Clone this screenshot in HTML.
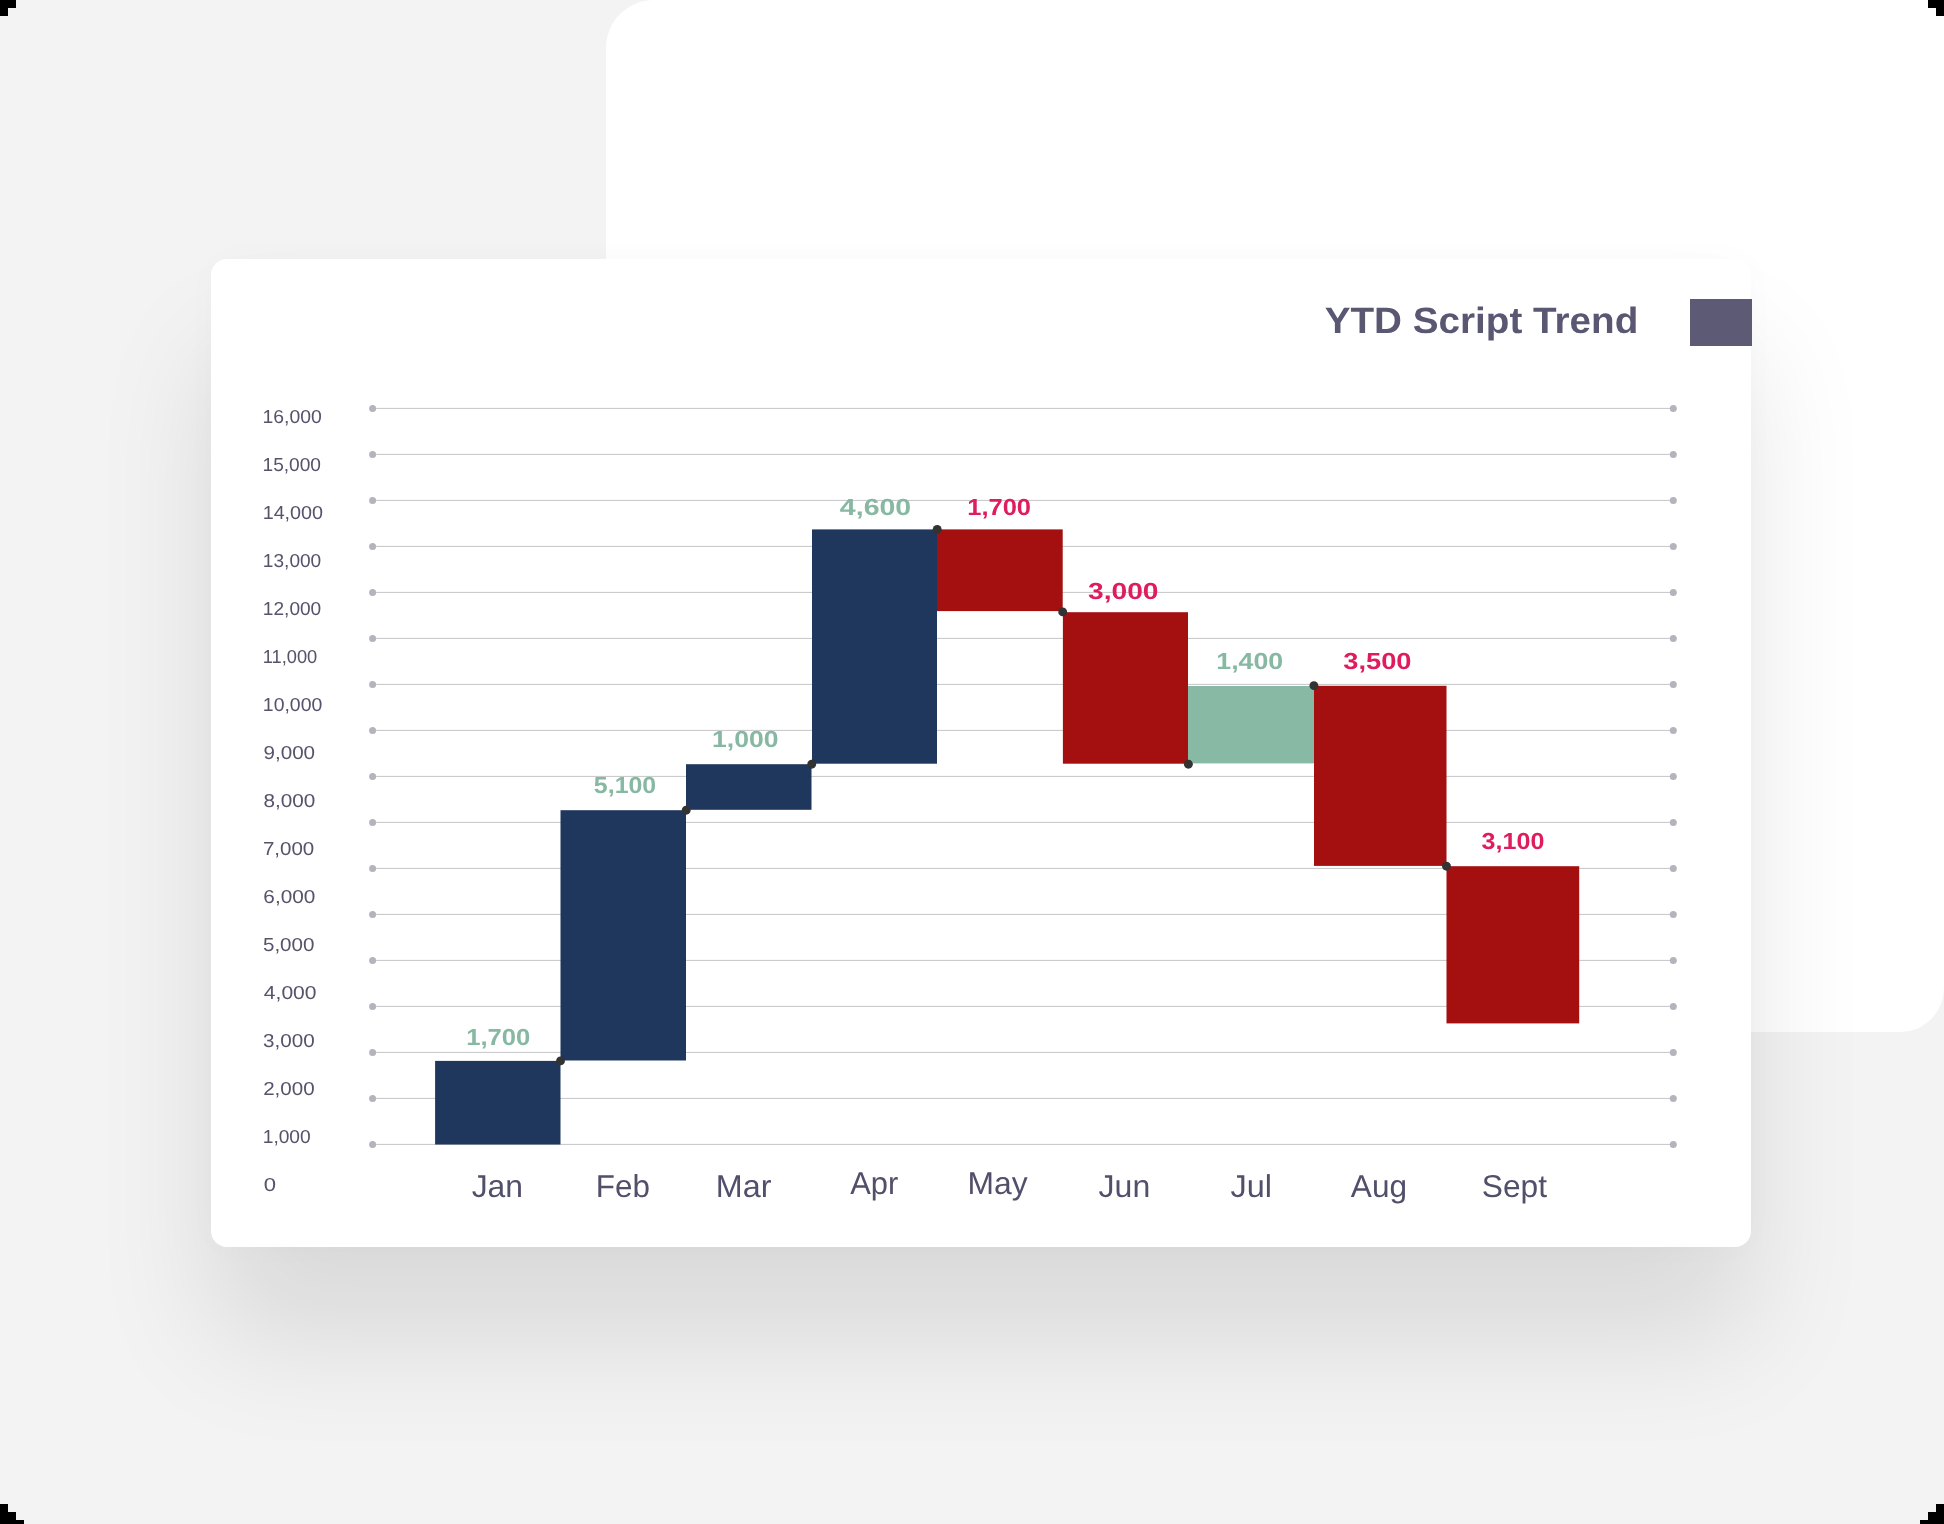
<!DOCTYPE html>
<html><head><meta charset="utf-8"><title>YTD Script Trend</title>
<style>
html,body{margin:0;padding:0;}
body{width:1944px;height:1524px;overflow:hidden;background:#f3f3f3;position:relative;font-family:"Liberation Sans",sans-serif;}
.back{position:absolute;left:606px;top:0;width:1338px;height:1032px;background:#fff;border-radius:48px 0 44px 0;}
.front{position:absolute;left:211px;top:259px;width:1540px;height:988px;background:#fff;border-radius:16px;box-shadow:0 92px 120px rgba(0,0,0,0.105),0 0 36px rgba(0,0,0,0.02);}
.sq{position:absolute;left:1690px;top:299px;width:62px;height:47px;background:#5d5a75;}
svg{position:absolute;left:0;top:0;will-change:transform;}
.k{position:absolute;background:#000;}
</style></head><body>
<div class="back"></div>
<div class="front"></div>
<div class="sq"></div>
<svg width="1944" height="1524" viewBox="0 0 1944 1524">
<line x1="372.6" y1="408.4" x2="1673.3" y2="408.4" stroke="#c5c5c8" stroke-width="1"/>
<circle cx="372.6" cy="408.4" r="3.5" fill="#b5b4be"/>
<circle cx="1673.3" cy="408.4" r="3.5" fill="#b5b4be"/>
<line x1="372.6" y1="454.4" x2="1673.3" y2="454.4" stroke="#c5c5c8" stroke-width="1"/>
<circle cx="372.6" cy="454.4" r="3.5" fill="#b5b4be"/>
<circle cx="1673.3" cy="454.4" r="3.5" fill="#b5b4be"/>
<line x1="372.6" y1="500.4" x2="1673.3" y2="500.4" stroke="#c5c5c8" stroke-width="1"/>
<circle cx="372.6" cy="500.4" r="3.5" fill="#b5b4be"/>
<circle cx="1673.3" cy="500.4" r="3.5" fill="#b5b4be"/>
<line x1="372.6" y1="546.4" x2="1673.3" y2="546.4" stroke="#c5c5c8" stroke-width="1"/>
<circle cx="372.6" cy="546.4" r="3.5" fill="#b5b4be"/>
<circle cx="1673.3" cy="546.4" r="3.5" fill="#b5b4be"/>
<line x1="372.6" y1="592.4" x2="1673.3" y2="592.4" stroke="#c5c5c8" stroke-width="1"/>
<circle cx="372.6" cy="592.4" r="3.5" fill="#b5b4be"/>
<circle cx="1673.3" cy="592.4" r="3.5" fill="#b5b4be"/>
<line x1="372.6" y1="638.4" x2="1673.3" y2="638.4" stroke="#c5c5c8" stroke-width="1"/>
<circle cx="372.6" cy="638.4" r="3.5" fill="#b5b4be"/>
<circle cx="1673.3" cy="638.4" r="3.5" fill="#b5b4be"/>
<line x1="372.6" y1="684.4" x2="1673.3" y2="684.4" stroke="#c5c5c8" stroke-width="1"/>
<circle cx="372.6" cy="684.4" r="3.5" fill="#b5b4be"/>
<circle cx="1673.3" cy="684.4" r="3.5" fill="#b5b4be"/>
<line x1="372.6" y1="730.4" x2="1673.3" y2="730.4" stroke="#c5c5c8" stroke-width="1"/>
<circle cx="372.6" cy="730.4" r="3.5" fill="#b5b4be"/>
<circle cx="1673.3" cy="730.4" r="3.5" fill="#b5b4be"/>
<line x1="372.6" y1="776.4" x2="1673.3" y2="776.4" stroke="#c5c5c8" stroke-width="1"/>
<circle cx="372.6" cy="776.4" r="3.5" fill="#b5b4be"/>
<circle cx="1673.3" cy="776.4" r="3.5" fill="#b5b4be"/>
<line x1="372.6" y1="822.4" x2="1673.3" y2="822.4" stroke="#c5c5c8" stroke-width="1"/>
<circle cx="372.6" cy="822.4" r="3.5" fill="#b5b4be"/>
<circle cx="1673.3" cy="822.4" r="3.5" fill="#b5b4be"/>
<line x1="372.6" y1="868.4" x2="1673.3" y2="868.4" stroke="#c5c5c8" stroke-width="1"/>
<circle cx="372.6" cy="868.4" r="3.5" fill="#b5b4be"/>
<circle cx="1673.3" cy="868.4" r="3.5" fill="#b5b4be"/>
<line x1="372.6" y1="914.4" x2="1673.3" y2="914.4" stroke="#c5c5c8" stroke-width="1"/>
<circle cx="372.6" cy="914.4" r="3.5" fill="#b5b4be"/>
<circle cx="1673.3" cy="914.4" r="3.5" fill="#b5b4be"/>
<line x1="372.6" y1="960.4" x2="1673.3" y2="960.4" stroke="#c5c5c8" stroke-width="1"/>
<circle cx="372.6" cy="960.4" r="3.5" fill="#b5b4be"/>
<circle cx="1673.3" cy="960.4" r="3.5" fill="#b5b4be"/>
<line x1="372.6" y1="1006.4" x2="1673.3" y2="1006.4" stroke="#c5c5c8" stroke-width="1"/>
<circle cx="372.6" cy="1006.4" r="3.5" fill="#b5b4be"/>
<circle cx="1673.3" cy="1006.4" r="3.5" fill="#b5b4be"/>
<line x1="372.6" y1="1052.4" x2="1673.3" y2="1052.4" stroke="#c5c5c8" stroke-width="1"/>
<circle cx="372.6" cy="1052.4" r="3.5" fill="#b5b4be"/>
<circle cx="1673.3" cy="1052.4" r="3.5" fill="#b5b4be"/>
<line x1="372.6" y1="1098.4" x2="1673.3" y2="1098.4" stroke="#c5c5c8" stroke-width="1"/>
<circle cx="372.6" cy="1098.4" r="3.5" fill="#b5b4be"/>
<circle cx="1673.3" cy="1098.4" r="3.5" fill="#b5b4be"/>
<line x1="372.6" y1="1144.4" x2="1673.3" y2="1144.4" stroke="#c5c5c8" stroke-width="1"/>
<circle cx="372.6" cy="1144.4" r="3.5" fill="#b5b4be"/>
<circle cx="1673.3" cy="1144.4" r="3.5" fill="#b5b4be"/>
<rect x="435.1" y="1060.9" width="125.4" height="83.6" fill="#1f365d"/>
<rect x="560.5" y="810.2" width="125.5" height="250.3" fill="#1f365d"/>
<rect x="686.0" y="764.2" width="125.5" height="45.6" fill="#1f365d"/>
<rect x="812.0" y="529.4" width="125.0" height="234.3" fill="#1f365d"/>
<rect x="937.0" y="529.4" width="125.7" height="81.7" fill="#a40f0f"/>
<rect x="1062.9" y="612.2" width="125.1" height="151.5" fill="#a40f0f"/>
<rect x="1188.0" y="686.0" width="126.0" height="77.4" fill="#88b9a4"/>
<rect x="1314.0" y="685.8" width="132.5" height="180.1" fill="#a40f0f"/>
<rect x="1446.5" y="866.2" width="132.7" height="157.2" fill="#a40f0f"/>
<circle cx="560.5" cy="1060.9" r="4.45" fill="#333333"/>
<circle cx="686.2" cy="810.2" r="4.45" fill="#333333"/>
<circle cx="811.7" cy="764.2" r="4.45" fill="#333333"/>
<circle cx="937.2" cy="529.4" r="4.45" fill="#333333"/>
<circle cx="1062.7" cy="611.9" r="4.45" fill="#333333"/>
<circle cx="1188.4" cy="764.2" r="4.45" fill="#333333"/>
<circle cx="1313.9" cy="685.6" r="4.45" fill="#333333"/>
<circle cx="1446.5" cy="866.2" r="4.45" fill="#333333"/>
<text x="1324.68" y="333.00" font-family="Liberation Sans, sans-serif" font-size="36.70" font-weight="bold" fill="#5a5773" text-rendering="geometricPrecision" textLength="313.66" lengthAdjust="spacingAndGlyphs">YTD Script Trend</text>
<text x="466.17" y="1045.00" font-family="Liberation Sans, sans-serif" font-size="23.20" font-weight="bold" fill="#86b8a2" text-rendering="geometricPrecision" textLength="64.15" lengthAdjust="spacingAndGlyphs">1,700</text>
<text x="593.87" y="793.00" font-family="Liberation Sans, sans-serif" font-size="23.20" font-weight="bold" fill="#86b8a2" text-rendering="geometricPrecision" textLength="62.33" lengthAdjust="spacingAndGlyphs">5,100</text>
<text x="712.04" y="747.00" font-family="Liberation Sans, sans-serif" font-size="23.20" font-weight="bold" fill="#86b8a2" text-rendering="geometricPrecision" textLength="66.45" lengthAdjust="spacingAndGlyphs">1,000</text>
<text x="839.89" y="515.00" font-family="Liberation Sans, sans-serif" font-size="23.20" font-weight="bold" fill="#86b8a2" text-rendering="geometricPrecision" textLength="71.36" lengthAdjust="spacingAndGlyphs">4,600</text>
<text x="967.22" y="515.00" font-family="Liberation Sans, sans-serif" font-size="23.20" font-weight="bold" fill="#df1c5e" text-rendering="geometricPrecision" textLength="63.85" lengthAdjust="spacingAndGlyphs">1,700</text>
<text x="1087.97" y="599.00" font-family="Liberation Sans, sans-serif" font-size="23.20" font-weight="bold" fill="#df1c5e" text-rendering="geometricPrecision" textLength="70.60" lengthAdjust="spacingAndGlyphs">3,000</text>
<text x="1216.32" y="669.00" font-family="Liberation Sans, sans-serif" font-size="23.20" font-weight="bold" fill="#86b8a2" text-rendering="geometricPrecision" textLength="66.92" lengthAdjust="spacingAndGlyphs">1,400</text>
<text x="1343.35" y="669.00" font-family="Liberation Sans, sans-serif" font-size="23.20" font-weight="bold" fill="#df1c5e" text-rendering="geometricPrecision" textLength="68.17" lengthAdjust="spacingAndGlyphs">3,500</text>
<text x="1481.54" y="849.00" font-family="Liberation Sans, sans-serif" font-size="23.20" font-weight="bold" fill="#df1c5e" text-rendering="geometricPrecision" textLength="62.81" lengthAdjust="spacingAndGlyphs">3,100</text>
<text x="471.66" y="1197.00" font-family="Liberation Sans, sans-serif" font-size="31.60" fill="#514f6a" text-rendering="geometricPrecision" textLength="51.33" lengthAdjust="spacingAndGlyphs">Jan</text>
<text x="595.82" y="1197.00" font-family="Liberation Sans, sans-serif" font-size="31.60" fill="#514f6a" text-rendering="geometricPrecision" textLength="54.06" lengthAdjust="spacingAndGlyphs">Feb</text>
<text x="715.85" y="1197.00" font-family="Liberation Sans, sans-serif" font-size="31.60" fill="#514f6a" text-rendering="geometricPrecision" textLength="55.62" lengthAdjust="spacingAndGlyphs">Mar</text>
<text x="850.19" y="1194.00" font-family="Liberation Sans, sans-serif" font-size="31.60" fill="#514f6a" text-rendering="geometricPrecision" textLength="48.00" lengthAdjust="spacingAndGlyphs">Apr</text>
<text x="967.57" y="1194.00" font-family="Liberation Sans, sans-serif" font-size="31.60" fill="#514f6a" text-rendering="geometricPrecision" textLength="60.07" lengthAdjust="spacingAndGlyphs">May</text>
<text x="1098.54" y="1197.00" font-family="Liberation Sans, sans-serif" font-size="31.60" fill="#514f6a" text-rendering="geometricPrecision" textLength="51.69" lengthAdjust="spacingAndGlyphs">Jun</text>
<text x="1230.59" y="1197.00" font-family="Liberation Sans, sans-serif" font-size="31.60" fill="#514f6a" text-rendering="geometricPrecision" textLength="41.51" lengthAdjust="spacingAndGlyphs">Jul</text>
<text x="1350.87" y="1197.00" font-family="Liberation Sans, sans-serif" font-size="31.60" fill="#514f6a" text-rendering="geometricPrecision" textLength="56.17" lengthAdjust="spacingAndGlyphs">Aug</text>
<text x="1481.83" y="1197.00" font-family="Liberation Sans, sans-serif" font-size="31.60" fill="#514f6a" text-rendering="geometricPrecision" textLength="65.12" lengthAdjust="spacingAndGlyphs">Sept</text>
<text x="262.46" y="423.00" font-family="Liberation Sans, sans-serif" font-size="18.75" fill="#56546c" text-rendering="geometricPrecision" textLength="59.28" lengthAdjust="spacingAndGlyphs">16,000</text>
<text x="262.53" y="471.00" font-family="Liberation Sans, sans-serif" font-size="18.75" fill="#56546c" text-rendering="geometricPrecision" textLength="58.50" lengthAdjust="spacingAndGlyphs">15,000</text>
<text x="262.65" y="519.00" font-family="Liberation Sans, sans-serif" font-size="18.75" fill="#56546c" text-rendering="geometricPrecision" textLength="60.46" lengthAdjust="spacingAndGlyphs">14,000</text>
<text x="262.85" y="567.00" font-family="Liberation Sans, sans-serif" font-size="18.75" fill="#56546c" text-rendering="geometricPrecision" textLength="58.39" lengthAdjust="spacingAndGlyphs">13,000</text>
<text x="262.85" y="615.00" font-family="Liberation Sans, sans-serif" font-size="18.75" fill="#56546c" text-rendering="geometricPrecision" textLength="58.39" lengthAdjust="spacingAndGlyphs">12,000</text>
<text x="262.83" y="663.00" font-family="Liberation Sans, sans-serif" font-size="18.75" fill="#56546c" text-rendering="geometricPrecision" textLength="54.44" lengthAdjust="spacingAndGlyphs">11,000</text>
<text x="262.86" y="711.00" font-family="Liberation Sans, sans-serif" font-size="18.75" fill="#56546c" text-rendering="geometricPrecision" textLength="59.40" lengthAdjust="spacingAndGlyphs">10,000</text>
<text x="263.52" y="759.00" font-family="Liberation Sans, sans-serif" font-size="18.75" fill="#56546c" text-rendering="geometricPrecision" textLength="51.53" lengthAdjust="spacingAndGlyphs">9,000</text>
<text x="263.56" y="807.00" font-family="Liberation Sans, sans-serif" font-size="18.75" fill="#56546c" text-rendering="geometricPrecision" textLength="51.84" lengthAdjust="spacingAndGlyphs">8,000</text>
<text x="262.92" y="855.00" font-family="Liberation Sans, sans-serif" font-size="18.75" fill="#56546c" text-rendering="geometricPrecision" textLength="51.26" lengthAdjust="spacingAndGlyphs">7,000</text>
<text x="263.36" y="903.00" font-family="Liberation Sans, sans-serif" font-size="18.75" fill="#56546c" text-rendering="geometricPrecision" textLength="51.91" lengthAdjust="spacingAndGlyphs">6,000</text>
<text x="262.94" y="951.00" font-family="Liberation Sans, sans-serif" font-size="18.75" fill="#56546c" text-rendering="geometricPrecision" textLength="51.51" lengthAdjust="spacingAndGlyphs">5,000</text>
<text x="263.87" y="999.00" font-family="Liberation Sans, sans-serif" font-size="18.75" fill="#56546c" text-rendering="geometricPrecision" textLength="52.66" lengthAdjust="spacingAndGlyphs">4,000</text>
<text x="263.02" y="1047.00" font-family="Liberation Sans, sans-serif" font-size="18.75" fill="#56546c" text-rendering="geometricPrecision" textLength="51.62" lengthAdjust="spacingAndGlyphs">3,000</text>
<text x="263.17" y="1095.00" font-family="Liberation Sans, sans-serif" font-size="18.75" fill="#56546c" text-rendering="geometricPrecision" textLength="51.45" lengthAdjust="spacingAndGlyphs">2,000</text>
<text x="262.74" y="1143.00" font-family="Liberation Sans, sans-serif" font-size="18.75" fill="#56546c" text-rendering="geometricPrecision" textLength="47.95" lengthAdjust="spacingAndGlyphs">1,000</text>
<text x="263.67" y="1191.00" font-family="Liberation Sans, sans-serif" font-size="18.75" fill="#56546c" text-rendering="geometricPrecision" textLength="12.28" lengthAdjust="spacingAndGlyphs">0</text>
</svg>
<div class="k" style="left:0px;top:0px;width:16px;height:8px"></div>
<div class="k" style="left:0px;top:8px;width:8px;height:8px"></div>
<div class="k" style="left:1928px;top:0px;width:16px;height:8px"></div>
<div class="k" style="left:1936px;top:8px;width:8px;height:8px"></div>
<div class="k" style="left:0px;top:1504px;width:8px;height:20px"></div>
<div class="k" style="left:8px;top:1512px;width:8px;height:12px"></div>
<div class="k" style="left:16px;top:1520px;width:8px;height:4px"></div>
<div class="k" style="left:1936px;top:1504px;width:8px;height:20px"></div>
<div class="k" style="left:1928px;top:1512px;width:8px;height:12px"></div>
<div class="k" style="left:1920px;top:1520px;width:8px;height:4px"></div>
</body></html>
